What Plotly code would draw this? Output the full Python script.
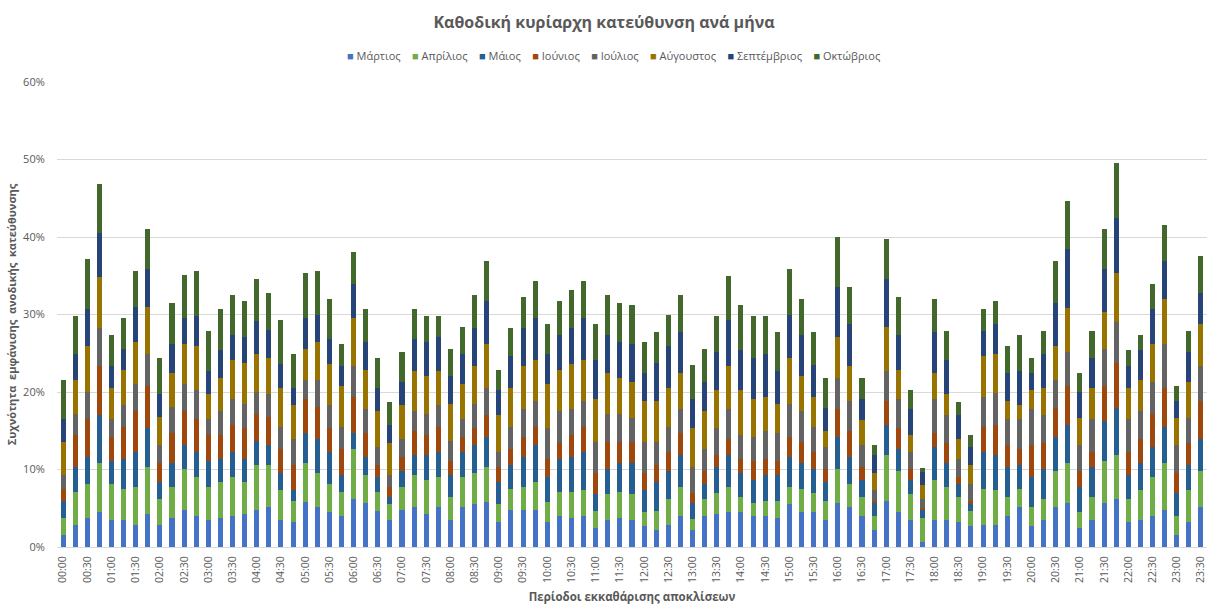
import plotly.graph_objects as go

periods = [
    "00:00", "00:15", "00:30", "00:45", "01:00", "01:15", "01:30", "01:45",
    "02:00", "02:15", "02:30", "02:45", "03:00", "03:15", "03:30", "03:45",
    "04:00", "04:15", "04:30", "04:45", "05:00", "05:15", "05:30", "05:45",
    "06:00", "06:15", "06:30", "06:45", "07:00", "07:15", "07:30", "07:45",
    "08:00", "08:15", "08:30", "08:45", "09:00", "09:15", "09:30", "09:45",
    "10:00", "10:15", "10:30", "10:45", "11:00", "11:15", "11:30", "11:45",
    "12:00", "12:15", "12:30", "12:45", "13:00", "13:15", "13:30", "13:45",
    "14:00", "14:15", "14:30", "14:45", "15:00", "15:15", "15:30", "15:45",
    "16:00", "16:15", "16:30", "16:45", "17:00", "17:15", "17:30", "17:45",
    "18:00", "18:15", "18:30", "18:45", "19:00", "19:15", "19:30", "19:45",
    "20:00", "20:15", "20:30", "20:45", "21:00", "21:15", "21:30", "21:45",
    "22:00", "22:15", "22:30", "22:45", "23:00", "23:15", "23:30",
]

# συχνότητα (%) ανά μήνα για κάθε περίοδο
martios = [
    1.6, 2.9, 3.75, 4.5, 3.45, 3.45, 2.9, 4.2, 2.9, 3.75,
    4.8, 4.0, 3.45, 3.75, 4.0, 4.2, 4.8, 5.2, 3.45, 3.2,
    5.8, 5.2, 4.5, 4.0, 6.25, 5.7, 4.7, 3.45, 4.8, 5.2,
    4.2, 5.2, 3.45, 5.2, 5.5, 5.8, 3.2, 4.8, 4.8, 4.8,
    3.2, 4.0, 3.75, 4.0, 2.4, 3.45, 3.75, 3.45, 2.7, 2.15,
    2.9, 4.0, 2.15, 4.0, 4.2, 4.5, 4.5, 4.0, 4.0, 3.7,
    5.5, 4.5, 4.5, 3.45, 5.7, 5.2, 4.0, 2.15, 6.0, 4.5,
    3.45, 0.7, 3.45, 3.45, 3.2, 2.7, 2.9, 2.9, 4.0, 5.2,
    2.7, 3.45, 5.2, 5.7, 2.4, 3.45, 5.7, 6.25, 3.2, 3.45,
    4.0, 4.8, 1.6, 3.2, 5.2,
]
aprilios = [
    2.15, 4.2, 4.35, 6.4, 4.65, 4.05, 4.9, 6.1, 3.35, 4.05,
    5.3, 5.0, 4.35, 4.65, 5.0, 4.2, 5.8, 5.4, 3.85, 2.7,
    5.1, 4.4, 3.6, 3.1, 6.35, 3.6, 2.4, 2.05, 3.0, 4.1,
    4.4, 3.8, 3.05, 3.8, 4.1, 4.5, 2.3, 2.7, 3.0, 3.6,
    2.6, 3.1, 3.35, 3.3, 2.3, 3.35, 3.35, 3.35, 1.8, 2.55,
    3.35, 3.8, 1.5, 2.25, 2.8, 3.3, 2.0, 1.7, 2.0, 2.3,
    2.3, 3.0, 2.5, 2.55, 4.4, 2.9, 2.5, 1.85, 5.9, 5.3,
    3.35, 3.0, 5.15, 4.35, 3.3, 2.0, 4.6, 4.4, 2.5, 2.3,
    2.5, 2.8, 4.6, 5.2, 2.1, 3.05, 5.4, 5.65, 3.05, 3.85,
    5.0, 6.1, 2.4, 4.1, 4.6,
]
maios = [
    2.25, 3.2, 3.5, 6.1, 3.0, 3.9, 4.4, 5.0, 2.15, 3.1,
    3.0, 3.2, 3.3, 3.0, 3.2, 3.0, 3.1, 2.5, 2.3, 1.4,
    3.8, 4.3, 4.1, 2.2, 2.1, 2.3, 1.9, 1.0, 2.0, 2.6,
    3.3, 3.2, 2.8, 3.2, 3.5, 3.9, 2.9, 3.1, 3.8, 4.7,
    3.2, 4.3, 4.5, 4.9, 2.1, 3.3, 3.8, 4.1, 2.8, 3.7,
    3.55, 4.1, 2.05, 1.85, 3.3, 4.1, 3.1, 2.9, 3.3, 3.3,
    3.8, 3.4, 3.1, 2.4, 4.1, 3.5, 2.1, 1.7, 3.8, 2.8,
    1.8, 1.1, 4.3, 3.1, 1.6, 0.8, 4.7, 4.6, 3.8, 3.1,
    3.8, 3.85, 4.4, 4.8, 3.3, 3.8, 5.1, 6.1, 3.05, 3.6,
    3.9, 4.6, 3.0, 3.3, 4.1,
]
iounios = [
    1.5, 4.1, 4.9, 6.3, 3.1, 4.1, 5.3, 5.5, 2.5, 3.8,
    4.4, 4.3, 3.3, 3.0, 3.5, 3.9, 3.5, 3.7, 3.0, 3.3,
    4.4, 4.2, 3.1, 3.3, 4.7, 3.1, 1.6, 1.3, 1.8, 3.1,
    2.5, 3.3, 1.8, 2.0, 2.2, 2.8, 1.9, 2.0, 2.6, 2.4,
    2.4, 2.0, 2.8, 3.3, 2.8, 3.5, 2.7, 2.7, 2.3, 2.2,
    2.4, 2.8, 1.3, 1.7, 1.6, 2.1, 1.8, 2.5, 2.1, 1.8,
    2.6, 2.7, 2.1, 1.7, 3.6, 3.4, 1.7, 0.3, 3.1, 2.7,
    1.5, 0.2, 1.8, 2.5, 0.9, 0.5, 3.3, 3.8, 2.8, 2.0,
    4.1, 3.3, 3.8, 5.1, 2.0, 1.9, 4.6, 5.8, 2.9, 3.1,
    4.3, 5.0, 2.6, 2.8, 4.9,
]
ioulios = [
    1.8, 2.8, 3.5, 4.9, 2.3, 2.8, 3.5, 4.1, 2.2, 3.4,
    3.5, 3.8, 2.1, 3.1, 3.4, 3.2, 2.8, 2.9, 2.9, 3.3,
    2.5, 3.5, 3.0, 2.9, 3.9, 3.1, 2.3, 1.5, 2.3, 2.5,
    2.8, 2.8, 2.6, 2.3, 3.2, 3.5, 1.9, 2.9, 3.6, 3.3,
    3.9, 4.1, 3.4, 3.3, 4.0, 3.6, 3.6, 3.1, 4.0, 3.0,
    3.3, 3.1, 3.3, 2.8, 3.4, 3.8, 3.0, 3.1, 3.6, 3.6,
    4.3, 3.9, 3.3, 2.8, 4.0, 3.8, 2.8, 1.3, 3.9, 3.8,
    2.1, 1.2, 4.4, 3.6, 2.4, 2.1, 3.8, 4.2, 3.4, 3.9,
    4.7, 3.6, 3.6, 4.3, 3.3, 4.3, 4.8, 5.2, 4.3, 3.5,
    4.1, 5.7, 3.5, 3.3, 4.5,
]
avgoustos = [
    4.3, 4.4, 5.9, 6.7, 4.0, 4.6, 5.5, 6.1, 3.7, 4.3,
    5.2, 5.6, 3.2, 4.3, 5.0, 5.3, 4.9, 4.7, 5.0, 4.4,
    4.0, 4.9, 5.3, 5.3, 6.2, 5.1, 4.6, 4.1, 4.4, 5.2,
    4.9, 4.4, 4.8, 4.5, 4.8, 5.7, 4.8, 5.0, 5.5, 5.3,
    5.7, 5.4, 5.8, 5.3, 5.5, 5.2, 4.6, 4.6, 5.2, 5.2,
    5.0, 4.6, 5.0, 4.9, 5.0, 5.5, 5.9, 4.9, 4.3, 3.8,
    5.9, 4.6, 3.8, 2.1, 5.3, 4.5, 3.3, 2.3, 5.7, 3.8,
    2.2, 1.8, 3.3, 2.7, 2.5, 2.5, 5.3, 5.0, 2.3, 1.8,
    2.5, 3.5, 4.3, 5.8, 3.6, 4.0, 4.7, 6.3, 4.0, 4.1,
    4.9, 5.8, 3.6, 4.6, 5.5,
]
septemvrios = [
    2.9, 3.3, 4.8, 5.6, 2.8, 2.7, 4.5, 4.9, 2.9, 3.8,
    3.3, 3.9, 3.0, 3.6, 3.3, 3.3, 4.2, 3.6, 3.1, 2.2,
    3.9, 3.5, 3.2, 2.5, 4.4, 3.6, 3.0, 2.4, 3.0, 4.2,
    4.4, 4.4, 3.6, 3.9, 4.9, 5.5, 3.3, 4.2, 4.9, 5.4,
    3.9, 4.5, 4.6, 5.4, 5.0, 5.0, 4.7, 4.9, 3.6, 5.0,
    5.4, 5.3, 3.8, 3.8, 4.8, 6.0, 5.1, 5.3, 5.6, 4.2,
    5.6, 5.3, 4.2, 3.0, 6.5, 5.5, 2.7, 2.3, 6.2, 4.5,
    3.4, 1.7, 5.3, 4.4, 3.1, 2.3, 3.3, 3.9, 3.6, 4.4,
    2.1, 4.4, 5.6, 7.5, 3.3, 3.9, 5.6, 7.2, 2.8, 3.8,
    4.5, 4.9, 2.1, 3.8, 4.0,
]
oktovrios = [
    5.1, 4.9, 6.5, 6.4, 4.1, 3.9, 4.6, 5.1, 4.7, 5.3,
    5.6, 5.8, 5.2, 5.3, 5.1, 4.7, 5.5, 4.8, 5.7, 4.4,
    5.8, 5.6, 5.2, 2.9, 4.2, 4.2, 3.9, 2.95, 3.9, 3.8,
    3.3, 2.7, 3.5, 3.5, 4.3, 5.2, 2.6, 3.5, 4.1, 4.8,
    3.9, 4.3, 4.9, 4.8, 4.7, 5.1, 5.0, 5.0, 4.1, 3.9,
    4.1, 4.8, 4.4, 4.3, 4.7, 5.7, 5.8, 5.4, 4.9, 5.0,
    5.9, 4.6, 4.2, 3.8, 6.4, 4.8, 2.7, 1.2, 5.1, 4.9,
    2.5, 0.5, 4.3, 3.8, 1.75, 1.5, 2.8, 2.9, 3.5, 4.7,
    2.0, 3.0, 5.4, 6.2, 2.4, 3.5, 5.1, 7.1, 2.1, 2.0,
    3.2, 4.7, 2.0, 2.8, 4.7,
]

series = [
    ("Μάρτιος", martios, "#4472C4"),
    ("Απρίλιος", aprilios, "#70AD47"),
    ("Μάιος", maios, "#255E91"),
    ("Ιούνιος", iounios, "#9E480E"),
    ("Ιούλιος", ioulios, "#636363"),
    ("Αύγουστος", avgoustos, "#997300"),
    ("Σεπτέμβριος", septemvrios, "#264478"),
    ("Οκτώβριος", oktovrios, "#43682B"),
]

grey = "#595959"
font = "Open Sans, Noto Sans, sans-serif"

fig = go.Figure()
for name, vals, color in series:
    fig.add_trace(go.Bar(
        x=periods,
        y=vals,
        name=name,
        marker=dict(color=color, line=dict(width=0)),
    ))

# compact legend line, like the Excel one
legend_text = "&nbsp;&nbsp;&nbsp;&nbsp;".join(
    f'<span style="color:{c}">■</span> {n}' for n, _, c in series
)

fig.update_layout(
    template="none",
    barmode="stack",
    bargap=0.58,
    width=1208,
    height=605,
    margin=dict(l=57, r=1, t=82, b=58, autoexpand=False),
    paper_bgcolor="white",
    plot_bgcolor="white",
    font=dict(family=font, color=grey, size=11),
    showlegend=False,
    title=dict(
        text="<b>Καθοδική κυρίαρχη κατεύθυνση ανά μήνα</b>",
        x=0.5, xanchor="center",
        y=1 - 22 / 605, yanchor="middle", yref="container",
        font=dict(size=16, color=grey, family=font),
    ),
    annotations=[dict(
        text=legend_text,
        xref="paper", yref="paper",
        x=0.484, y=1.058,
        xanchor="center", yanchor="middle",
        showarrow=False,
        font=dict(size=11, color=grey),
    )],
)

fig.update_xaxes(
    type="category",
    tickmode="array",
    tickvals=periods[::2],
    ticktext=periods[::2],
    tickangle=-90,
    tickfont=dict(size=10.5, color=grey),
    showgrid=False,
    showline=True,
    linecolor="#D9D9D9",
    ticks="outside",
    ticklen=4,
    tickcolor="rgba(0,0,0,0)",
    automargin=False,
    title=dict(
        text="<b>Περίοδοι εκκαθάρισης αποκλίσεων</b>",
        font=dict(size=11.5, color=grey),
        standoff=10,
    ),
)

fig.update_yaxes(
    range=[0, 60],
    dtick=10,
    ticksuffix="%",
    tickfont=dict(size=11, color=grey),
    ticks="outside",
    ticklen=9,
    tickcolor="rgba(0,0,0,0)",
    showgrid=True,
    gridcolor="#D9D9D9",
    gridwidth=1,
    zeroline=False,
    showline=False,
    automargin=False,
    title=dict(
        text="<b>Συχνότητα  εμφάνισης  ανοδικής  κατεύθυνσης</b>",
        font=dict(size=11, color=grey),
        standoff=4,
    ),
)

fig.write_html(
    "out.html",
    config={"displayModeBar": False},
    post_script="document.body.style.margin = '0px';",
)
